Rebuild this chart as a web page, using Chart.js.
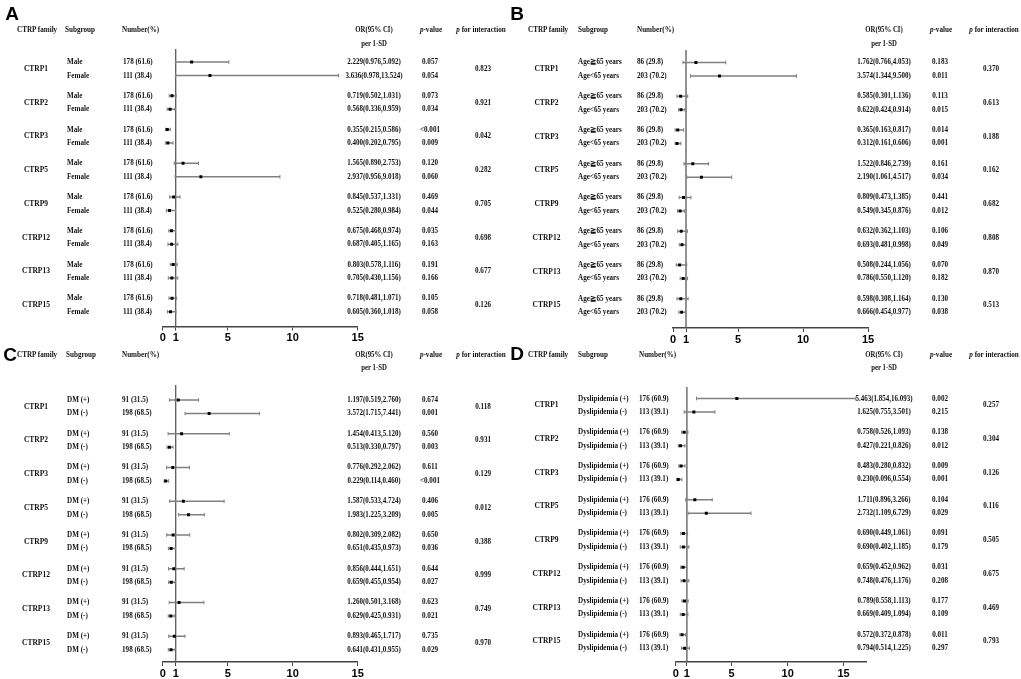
<!DOCTYPE html>
<html><head><meta charset="utf-8">
<script src="https://cdn.jsdelivr.net/npm/chart.js@4.4.0/dist/chart.umd.min.js"></script>
<style>
html,body{margin:0;padding:0;background:#fff;}
#page{position:relative;width:1021px;height:679px;overflow:hidden;background:#fff;}
canvas{position:absolute;}
.t{position:absolute;white-space:nowrap;font-family:'Liberation Serif','Times New Roman',serif;font-weight:bold;color:#111;line-height:1;}
.letter{position:absolute;white-space:nowrap;font-family:'Liberation Sans',Arial,sans-serif;font-weight:bold;color:#000;line-height:1;}
</style></head><body><div id="page"></div>
<script>
// ---------- shared ----------
const families = ['CTRP1','CTRP2','CTRP3','CTRP5','CTRP9','CTRP12','CTRP13','CTRP15'];
const tickValues = [0, 1, 5, 10, 15];

// ---------- Panel A: sex ----------
const subgroupsA = ['Male', 'Female'];
const numbersA = ['178 (61.6)', '111 (38.4)'];
const orA = [2.229,3.636, 0.719,0.568, 0.355,0.400, 1.565,2.937, 0.845,0.525, 0.675,0.687, 0.803,0.705, 0.718,0.605];
const loA = [0.976,0.978, 0.502,0.336, 0.215,0.202, 0.890,0.956, 0.537,0.280, 0.468,0.405, 0.578,0.430, 0.481,0.360];
const hiA = [5.092,13.524, 1.031,0.959, 0.586,0.795, 2.753,9.018, 1.331,0.984, 0.974,1.165, 1.116,1.156, 1.071,1.018];
const pA = ['0.057','0.054','0.073','0.034','<0.001','0.009','0.120','0.060','0.469','0.044','0.035','0.163','0.191','0.166','0.105','0.058'];
const pintA = ['0.823','0.921','0.042','0.282','0.705','0.698','0.677','0.126'];

// ---------- Panel B: age ----------
const subgroupsB = ['Age\u226765 years', 'Age<65 years'];
const numbersB = ['86 (29.8)', '203 (70.2)'];
const orB = [1.762,3.574, 0.585,0.622, 0.365,0.312, 1.522,2.190, 0.809,0.549, 0.632,0.693, 0.508,0.786, 0.598,0.666];
const loB = [0.766,1.344, 0.301,0.424, 0.163,0.161, 0.846,1.061, 0.473,0.345, 0.362,0.481, 0.244,0.550, 0.308,0.454];
const hiB = [4.053,9.500, 1.136,0.914, 0.817,0.606, 2.739,4.517, 1.385,0.876, 1.103,0.998, 1.056,1.120, 1.164,0.977];
const pB = ['0.183','0.011','0.113','0.015','0.014','0.001','0.161','0.034','0.441','0.012','0.106','0.049','0.070','0.182','0.130','0.038'];
const pintB = ['0.370','0.613','0.188','0.162','0.682','0.808','0.870','0.513'];

// ---------- Panel C: DM ----------
const subgroupsC = ['DM (+)', 'DM (-)'];
const numbersC = ['91 (31.5)', '198 (68.5)'];
const orC = [1.197,3.572, 1.454,0.513, 0.776,0.229, 1.587,1.983, 0.802,0.651, 0.856,0.659, 1.260,0.629, 0.893,0.641];
const loC = [0.519,1.715, 0.413,0.330, 0.292,0.114, 0.533,1.225, 0.309,0.435, 0.444,0.455, 0.501,0.425, 0.465,0.431];
const hiC = [2.760,7.441, 5.120,0.797, 2.062,0.460, 4.724,3.209, 2.082,0.973, 1.651,0.954, 3.168,0.931, 1.717,0.955];
const pC = ['0.674','0.001','0.560','0.003','0.611','<0.001','0.406','0.005','0.650','0.036','0.644','0.027','0.623','0.021','0.735','0.029'];
const pintC = ['0.118','0.931','0.129','0.012','0.388','0.999','0.749','0.970'];

// ---------- Panel D: dyslipidemia ----------
const subgroupsD = ['Dyslipidemia (+)', 'Dyslipidemia (-)'];
const numbersD = ['176 (60.9)', '113 (39.1)'];
const orD = [5.463,1.625, 0.758,0.427, 0.483,0.230, 1.711,2.732, 0.690,0.690, 0.659,0.748, 0.789,0.669, 0.572,0.794];
const loD = [1.854,0.755, 0.526,0.221, 0.280,0.096, 0.896,1.109, 0.449,0.402, 0.452,0.476, 0.558,0.409, 0.372,0.514];
const hiD = [16.093,3.501, 1.093,0.826, 0.832,0.554, 3.266,6.729, 1.061,1.185, 0.962,1.176, 1.113,1.094, 0.878,1.225];
const pD = ['0.002','0.215','0.138','0.012','0.009','0.001','0.104','0.029','0.091','0.179','0.031','0.208','0.177','0.109','0.011','0.297'];
const pintD = ['0.257','0.304','0.126','0.116','0.505','0.675','0.469','0.793'];

// ---------- layout (pixels) ----------
const layouts = [
  {letter:'A', lx:12, ly:13, cx:0,   cy:0,   cw:510, ch:345, pad:{left:162.7,right:152.3,top:49,bottom:1.5}, xMax:15, yMin:-0.963, yMax:19.59,
   headY:30, perY:43.5, famHeadX:17, famX:36, subHeadX:65, subX:67, numHeadX:122, numX:123, orX:374, pHeadX:431, pX:430, intHeadX:481, intX:483},
  {letter:'B', lx:517, ly:12.5, cx:510, cy:0, cw:511, ch:345, pad:{left:163,right:153,top:50,bottom:0}, xMax:15, yMin:-0.926, yMax:19.67,
   headY:30, perY:43.5, famHeadX:528, famX:546.5, subHeadX:578, subX:578, numHeadX:637, numX:637, orX:884, pHeadX:941, pX:940, intHeadX:994, intX:991},
  {letter:'C', lx:10, ly:354, cx:0,   cy:335, cw:510, ch:344, pad:{left:162.7,right:152.3,top:50,bottom:0}, xMax:15, yMin:-1.111, yMax:19.41,
   headY:355, perY:367.5, famHeadX:17, famX:36, subHeadX:66, subX:66.7, numHeadX:121.7, numX:121.7, orX:374, pHeadX:431, pX:430, intHeadX:481, intX:483},
  {letter:'D', lx:517, ly:352.5, cx:510, cy:335, cw:511, ch:344, pad:{left:165.7,right:155,top:52,bottom:0}, xMax:17, yMin:-0.852, yMax:19.52,
   headY:355, perY:367.5, famHeadX:528, famX:546.5, subHeadX:578, subX:578, numHeadX:639, numX:639, orX:884, pHeadX:941, pX:940, intHeadX:994, intX:991}
];

const page = document.getElementById('page');
function put(txt, x, y, align, size, sx, html, cls) {
  const d = document.createElement('div');
  d.className = cls || 't';
  d.style.fontSize = size + 'px';
  if (html) d.innerHTML = txt; else d.textContent = txt;
  d.style.left = x + 'px';
  d.style.top = y + 'px';
  const tx = align === 'center' ? '-50%' : '0';
  d.style.transformOrigin = align === 'center' ? '50% 50%' : '0 50%';
  d.style.transform = 'translate(' + tx + ',-50%) scaleX(' + sx + ')';
  page.appendChild(d);
}

const rowVal = i => Math.floor(i / 2) * 2.5 + (i % 2);

function makePanel(L, subs, nums, or, lo, hi, pv, pint) {
  const cv = document.createElement('canvas');
  cv.width = L.cw; cv.height = L.ch;
  cv.style.left = L.cx + 'px'; cv.style.top = L.cy + 'px';
  cv.style.width = L.cw + 'px'; cv.style.height = L.ch + 'px';
  page.appendChild(cv);

  const pts = or.map((v, i) => ({x: v, y: rowVal(i)}));
  const ci = [];
  lo.forEach((v, i) => { ci.push({x: v, y: rowVal(i)}, {x: hi[i], y: rowVal(i)}, {x: null, y: null}); });

  const chart = new Chart(cv, {
    type: 'scatter',
    data: {datasets: [
      {data: pts, pointStyle: 'rect', pointRadius: 2.1, backgroundColor: '#000', borderColor: '#000', borderWidth: 0},
      {data: ci, showLine: true, spanGaps: false, borderColor: '#808080', borderWidth: 1.5,
       pointStyle: 'line', pointRotation: 90, pointRadius: 1.8, pointBorderColor: '#808080', pointBorderWidth: 1, backgroundColor: '#808080'},
      {data: [{x: 1, y: L.yMin}, {x: 1, y: L.yMax}], showLine: true, borderColor: '#5a5a5a', borderWidth: 1.3, pointRadius: 0}
    ]},
    options: {
      responsive: false, animation: false, events: [], devicePixelRatio: 1,
      layout: {padding: L.pad},
      plugins: {legend: {display: false}, tooltip: {enabled: false}},
      scales: {
        x: {type: 'linear', position: 'bottom', min: 0, max: L.xMax,
            afterBuildTicks: ax => { ax.ticks = tickValues.map(v => ({value: v})); },
            afterFit: s => { s.height = 17; },
            ticks: {autoSkip: false, maxRotation: 0, padding: 1, color: '#000',
                    font: {family: "'Liberation Sans', Arial, sans-serif", weight: 'bold', size: 11}},
            grid: {display: true, drawOnChartArea: false, drawTicks: true, tickLength: 4, color: '#444', lineWidth: 1},
            border: {display: true, color: '#444', width: 1.5}},
        y: {type: 'linear', display: false, reverse: true, min: L.yMin, max: L.yMax}
      }
    }
  });

  const ys = v => L.cy + chart.scales.y.getPixelForValue(v);

  // panel letter and headers
  put(L.letter, L.lx, L.ly, 'center', 19, 1, false, 'letter');
  put('CTRP family', L.famHeadX, L.headY, 'left', 7.5, 0.95);
  put('Subgroup', L.subHeadX, L.headY, 'left', 7.5, 0.95);
  put('Number(%)', L.numHeadX, L.headY, 'left', 7.5, 0.95);
  put('OR(95% CI)', L.orX, L.headY, 'center', 7.5, 0.9);
  put('per 1-SD', L.orX, L.perY, 'center', 7.5, 0.9);
  put('<i>p</i>-value', L.pHeadX, L.headY, 'center', 7.5, 0.95, true);
  put('<i>p</i> for interaction', L.intHeadX, L.headY, 'center', 7.5, 0.95, true);

  families.forEach((f, g) => {
    put(f, L.famX, ys(g * 2.5 + 0.5), 'center', 7.5, 1);
    put(pint[g], L.intX, ys(g * 2.5 + 0.5), 'center', 7.5, 0.95);
  });
  or.forEach((v, i) => {
    const y = ys(rowVal(i));
    put(subs[i % 2], L.subX, y, 'left', 7.5, 0.95);
    put(nums[i % 2], L.numX, y, 'left', 7.5, 0.95);
    put(v.toFixed(3) + '(' + lo[i].toFixed(3) + ',' + hi[i].toFixed(3) + ')', L.orX, y, 'center', 7.5, 0.93);
    put(pv[i], L.pX, y, 'center', 7.5, 0.95);
  });
}

makePanel(layouts[0], subgroupsA, numbersA, orA, loA, hiA, pA, pintA);
makePanel(layouts[1], subgroupsB, numbersB, orB, loB, hiB, pB, pintB);
makePanel(layouts[2], subgroupsC, numbersC, orC, loC, hiC, pC, pintC);
makePanel(layouts[3], subgroupsD, numbersD, orD, loD, hiD, pD, pintD);
</script>
</body></html>
